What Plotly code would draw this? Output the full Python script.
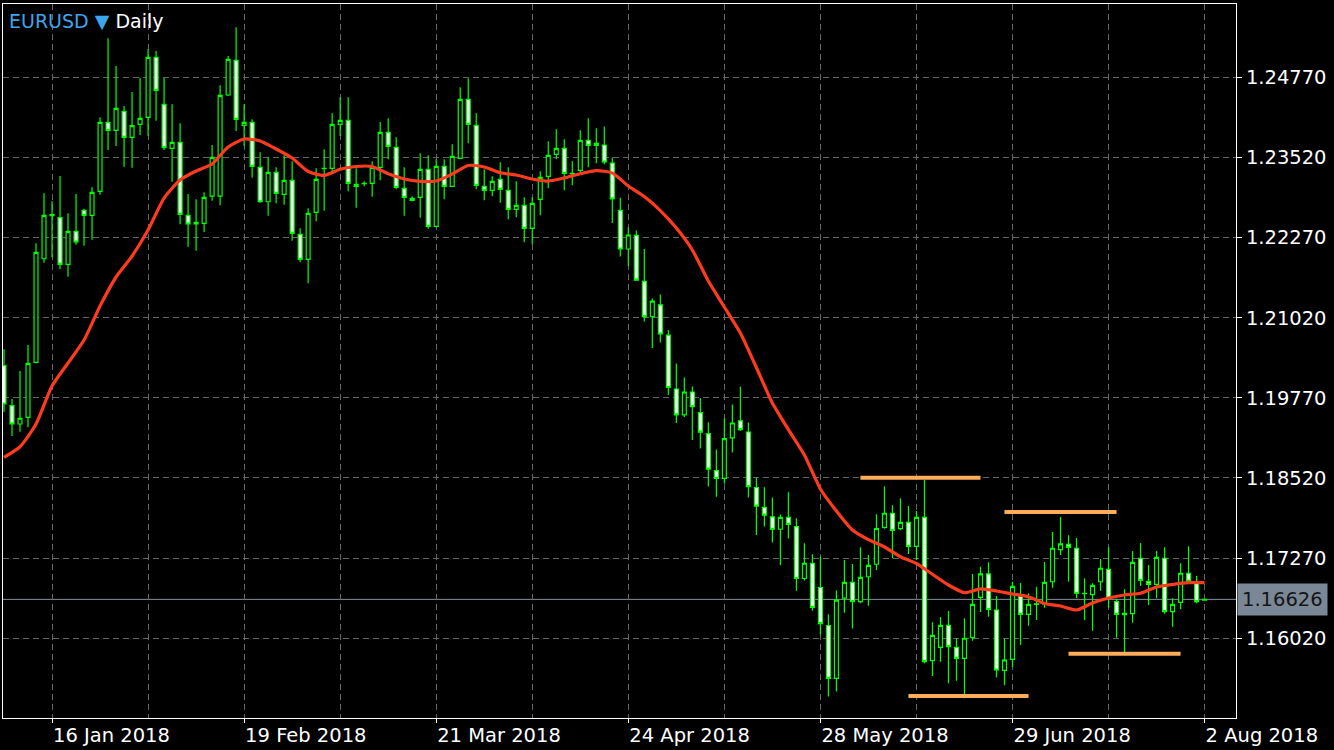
import plotly.graph_objects as go

# ---- OHLC data (EURUSD daily) ----
opens = [1.20271,1.19647,1.19362,1.19466,1.20324,1.21940,1.22611,1.22580,1.21853,1.22368,
         1.22695,1.22617,1.22992,1.24068,1.23943,1.24240,1.23834,1.24037,1.24146,1.25082,
         1.24349,1.23663,1.23756,1.22617,1.22482,1.22493,1.22918,1.22918,1.24494,1.25035,
         1.24021,1.24068,1.23366,1.22829,1.23288,1.22945,1.23163,1.22321,1.21931,1.22664,
         1.23351,1.23351,1.24037,1.24099,1.23101,1.23117,1.23117,1.23366,1.23912,1.23678,
         1.23039,1.22883,1.22898,1.23335,1.22446,1.23382,1.23070,1.23506,1.24427,1.24021,
         1.23070,1.23007,1.23179,1.23007,1.22711,1.22773,1.22415,1.22867,1.23226,1.23569,
         1.23663,1.23273,1.23319,1.23787,1.23741,1.23714,1.23433,1.22695,1.22092,1.22304,
         1.21589,1.21037,1.21221,1.20748,1.19908,1.19505,1.19861,1.19539,1.19210,1.18635,
         1.18513,1.19146,1.19412,1.19237,1.18371,1.18061,1.17914,1.17720,1.17905,1.17761,
         1.16951,1.17189,1.16811,1.16218,1.15393,1.16644,1.16891,1.16589,1.16979,1.17174,
         1.17747,1.17969,1.17728,1.17828,1.17451,1.17906,1.15669,1.15878,1.16221,1.15878,
         1.15706,1.16028,1.16658,1.17022,1.16460,1.15519,1.15691,1.16675,1.16393,1.16549,
         1.16554,1.16901,1.17401,1.17485,1.17423,1.16721,1.16699,1.16901,1.17095,1.16589,
         1.16409,1.16402,1.17267,1.16908,1.16861,1.17267,1.16433,1.16580,1.17033,1.16892,
         1.16615]
highs = [1.20527,1.19752,1.20188,1.20594,1.22181,1.22961,1.22836,1.23230,1.22649,1.22950,
         1.22720,1.23054,1.24146,1.25379,1.24946,1.24322,1.24541,1.24764,1.25212,1.25180,
         1.24759,1.24349,1.24053,1.22950,1.22867,1.22976,1.23714,1.24645,1.25102,1.25550,
         1.24349,1.24115,1.23600,1.23522,1.23366,1.23553,1.23460,1.22415,1.22726,1.23351,
         1.23647,1.24209,1.24458,1.24458,1.23351,1.23148,1.23460,1.24073,1.24131,1.23834,
         1.23366,1.22914,1.23585,1.23553,1.23491,1.23491,1.23725,1.24614,1.24755,1.24209,
         1.23335,1.23226,1.23444,1.23366,1.23148,1.22898,1.22898,1.23304,1.23772,1.23959,
         1.23803,1.23460,1.23943,1.24131,1.23975,1.24003,1.23519,1.22892,1.22430,1.22379,
         1.22092,1.21319,1.21382,1.20830,1.20305,1.20087,1.19948,1.19769,1.19390,1.18962,
         1.19452,1.19666,1.19942,1.19385,1.18525,1.18376,1.18215,1.17950,1.18296,1.17891,
         1.17501,1.17330,1.17291,1.16394,1.16763,1.17238,1.17178,1.17440,1.17316,1.17953,
         1.18391,1.18093,1.18203,1.18082,1.18004,1.18488,1.16268,1.16351,1.16444,1.16019,
         1.16331,1.17022,1.17135,1.17204,1.16678,1.16011,1.16900,1.16881,1.16721,1.16823,
         1.17209,1.17677,1.17911,1.17625,1.17583,1.16955,1.16877,1.17256,1.17438,1.16636,
         1.16783,1.17380,1.17505,1.17162,1.17380,1.17438,1.16643,1.17189,1.17454,1.16990,
         1.16640]
lows = [1.19553,1.19174,1.19241,1.19310,1.20309,1.21878,1.21962,1.21775,1.21659,1.22159,
        1.22143,1.22237,1.22939,1.23636,1.23698,1.23376,1.23360,1.23870,1.23859,1.24093,
        1.23636,1.23141,1.22477,1.22127,1.22065,1.22357,1.22845,1.22773,1.24478,1.23932,
        1.23703,1.23204,1.22814,1.22611,1.22805,1.22783,1.22221,1.21884,1.21556,1.22524,
        1.22689,1.23273,1.23854,1.22992,1.22736,1.23070,1.22907,1.23163,1.23491,1.23023,
        1.22611,1.22836,1.22580,1.22408,1.22430,1.22867,1.23060,1.23491,1.23741,1.23023,
        1.22851,1.22914,1.22814,1.22555,1.22586,1.22196,1.22165,1.22617,1.23039,1.23491,
        1.23007,1.23085,1.23273,1.23366,1.23429,1.23413,1.22497,1.21976,1.21826,1.21600,
        1.20962,1.20547,1.20633,1.19816,1.19377,1.19471,1.19112,1.18981,1.18386,1.18226,
        1.18433,1.18917,1.19251,1.18215,1.17630,1.17763,1.17511,1.17162,1.17574,1.16761,
        1.16920,1.16449,1.16076,1.15111,1.15189,1.16418,1.16171,1.16565,1.16527,1.17084,
        1.17727,1.17268,1.17708,1.17334,1.17240,1.15629,1.15430,1.15653,1.15316,1.15357,
        1.15083,1.15981,1.16429,1.16355,1.15407,1.15285,1.15571,1.15914,1.16214,1.16304,
        1.16496,1.16808,1.17318,1.16901,1.16643,1.16304,1.16137,1.16761,1.16496,1.16028,
        1.15800,1.16262,1.16834,1.16538,1.16643,1.16402,1.16199,1.16471,1.16877,1.16565,
        1.16605]
closes = [1.19674,1.19362,1.19451,1.20309,1.22040,1.22617,1.22627,1.21853,1.22368,1.22201,
          1.22617,1.22976,1.24068,1.23943,1.24287,1.23834,1.24015,1.24131,1.25082,1.24567,
          1.23672,1.23756,1.22633,1.22482,1.22508,1.22898,1.23522,1.24489,1.25051,1.24115,
          1.24068,1.23382,1.22829,1.23288,1.22961,1.23163,1.22336,1.21931,1.22649,1.23179,
          1.23346,1.24037,1.24099,1.23117,1.23070,1.23112,1.23366,1.23912,1.23694,1.23054,
          1.22898,1.22851,1.23335,1.22446,1.23382,1.23070,1.23538,1.24427,1.24037,1.23085,
          1.23007,1.23148,1.23023,1.22711,1.22773,1.22415,1.22805,1.23210,1.23553,1.23663,
          1.23273,1.23265,1.23787,1.23709,1.23709,1.23449,1.22875,1.22092,1.22310,1.21606,
          1.21037,1.21279,1.20766,1.19931,1.19505,1.19861,1.19631,1.19234,1.18658,1.18513,
          1.19135,1.19377,1.19274,1.18386,1.18079,1.17939,1.17720,1.17905,1.17795,1.16951,
          1.17189,1.16499,1.16248,1.15393,1.16614,1.16891,1.16589,1.16970,1.17156,1.17731,
          1.17969,1.17700,1.17828,1.17451,1.17906,1.15653,1.16065,1.16221,1.15887,1.15706,
          1.16019,1.16549,1.17022,1.16468,1.15524,1.15680,1.16830,1.16393,1.16549,1.16554,
          1.16892,1.17423,1.17490,1.17438,1.16721,1.16716,1.16845,1.17111,1.16643,1.16393,
          1.16387,1.17204,1.16923,1.16861,1.17282,1.16433,1.16549,1.17033,1.16908,1.16589,
          1.16626]

# moving average (red line), read every second bar
ma_values = [1.18842,1.19007,1.19362,1.19954,1.20313,1.20672,1.21202,1.21655,1.21982,1.22388,
             1.22887,1.23168,1.23308,1.23418,1.23683,1.23808,1.23776,1.23652,1.23511,1.23301,
             1.23238,1.23335,1.23379,1.23379,1.23265,1.23184,1.23146,1.23152,1.23262,1.23394,
             1.23371,1.23282,1.23246,1.23184,1.23152,1.23199,1.23266,1.23316,1.23277,1.23074,
             1.22911,1.22692,1.22419,1.22076,1.21592,1.21187,1.20781,1.20243,1.19689,1.19274,
             1.18878,1.18348,1.18004,1.17708,1.17557,1.17443,1.17291,1.17185,1.17017,1.16850,
             1.16730,1.16788,1.16756,1.16710,1.16666,1.16561,1.16522,1.16460,1.16569,1.16647,
             1.16694,1.16721,1.16819,1.16858,1.16886,1.16886]
ma_bars = list(range(0, 151, 2))

# support / resistance segments (orange)
sr_levels = [1.18522, 1.15118, 1.17989, 1.15778]
sr_start = [107, 113, 125, 133]
sr_end = [122, 128, 139, 147]

current_price = 1.16626

y_ticks = [1.16020, 1.17270, 1.18520, 1.19770, 1.21020, 1.22270, 1.23520, 1.24770]
x_label_bars = [6, 30, 54, 78, 102, 126, 150]
x_labels = ["16 Jan 2018", "19 Feb 2018", "21 Mar 2018", "24 Apr 2018",
            "28 May 2018", "29 Jun 2018", "2 Aug 2018"]
x_minor_grid = [18, 42, 66, 90, 114, 138]

GREEN = "#00FF00"
GRID = "#666666"
FONT = "DejaVu Sans"

bars = list(range(len(opens)))

fig = go.Figure()
fig.add_trace(go.Candlestick(
    x=bars[:-1], open=opens[:-1], high=highs[:-1], low=lows[:-1], close=closes[:-1],
    increasing=dict(line=dict(color=GREEN, width=1.2), fillcolor="#000000"),
    decreasing=dict(line=dict(color=GREEN, width=1.2), fillcolor="#FFFFFF"),
    whiskerwidth=0, showlegend=False))
fig.add_trace(go.Candlestick(
    x=bars[-1:], open=opens[-1:], high=highs[-1:], low=lows[-1:], close=closes[-1:],
    increasing=dict(line=dict(color=GREEN, width=1.2), fillcolor=GREEN),
    decreasing=dict(line=dict(color=GREEN, width=1.2), fillcolor=GREEN),
    whiskerwidth=0, showlegend=False))
fig.add_trace(go.Scatter(
    x=ma_bars, y=ma_values, mode="lines",
    line=dict(color="#FF3B1F", width=3.2, shape="spline", smoothing=0.6),
    showlegend=False, hoverinfo="skip"))

for lvl, s, e in zip(sr_levels, sr_start, sr_end):
    fig.add_shape(type="line", xref="x", yref="y", x0=s, x1=e, y0=lvl, y1=lvl,
                  line=dict(color="#FFAD5A", width=4))

fig.add_shape(type="line", xref="x domain", yref="y", x0=0, x1=1,
              y0=current_price, y1=current_price,
              line=dict(color="#8893A0", width=1), layer="below")

fig.add_annotation(xref="paper", yref="y", x=1, y=current_price, xanchor="left",
                   yanchor="middle", xshift=1, text=f"{current_price:.5f}",
                   showarrow=False, bgcolor="#7A8797", borderpad=4,
                   font=dict(family=FONT, size=19.5, color="#151515"))

fig.add_annotation(xref="paper", yref="paper", x=0, y=1, xanchor="left", yanchor="top",
                   xshift=4, yshift=-4, showarrow=False,
                   text="<span style='color:#3BA5EE'>EURUSD ▼</span> Daily",
                   font=dict(family=FONT, size=19, color="#FFFFFF"))

fig.update_layout(
    width=1334, height=750,
    margin=dict(l=3, r=98, t=4, b=32),
    paper_bgcolor="#000000", plot_bgcolor="#000000",
    showlegend=False,
    xaxis=dict(
        range=[-0.125, 153.925], rangeslider=dict(visible=False),
        tickmode="array", tickvals=x_label_bars, ticktext=x_labels,
        ticklabelposition="outside right",
        showgrid=True, gridcolor=GRID, griddash="6px,4px", gridwidth=1,
        minor=dict(tickmode="array", tickvals=x_minor_grid, showgrid=True,
                   gridcolor=GRID, griddash="6px,4px", gridwidth=1, ticks=""),
        ticks="outside", ticklen=4, tickcolor="#FFFFFF",
        showline=True, linecolor="#FFFFFF", linewidth=1, mirror=True,
        zeroline=False, tickfont=dict(family=FONT, size=19.5, color="#FFFFFF")),
    yaxis=dict(
        side="right", range=[1.14775, 1.25914],
        tickmode="array", tickvals=y_ticks, ticktext=[f"{v:.5f}" for v in y_ticks],
        showgrid=True, gridcolor=GRID, griddash="6px,4px", gridwidth=1,
        ticks="outside", ticklen=5, tickcolor="#FFFFFF",
        showline=True, linecolor="#FFFFFF", linewidth=1, mirror=True,
        zeroline=False, tickfont=dict(family=FONT, size=19.5, color="#FFFFFF")),
)

fig.write_html("out.html", config={"displayModeBar": False},
               post_script="document.body.style.margin='0';document.body.style.overflow='hidden';")
